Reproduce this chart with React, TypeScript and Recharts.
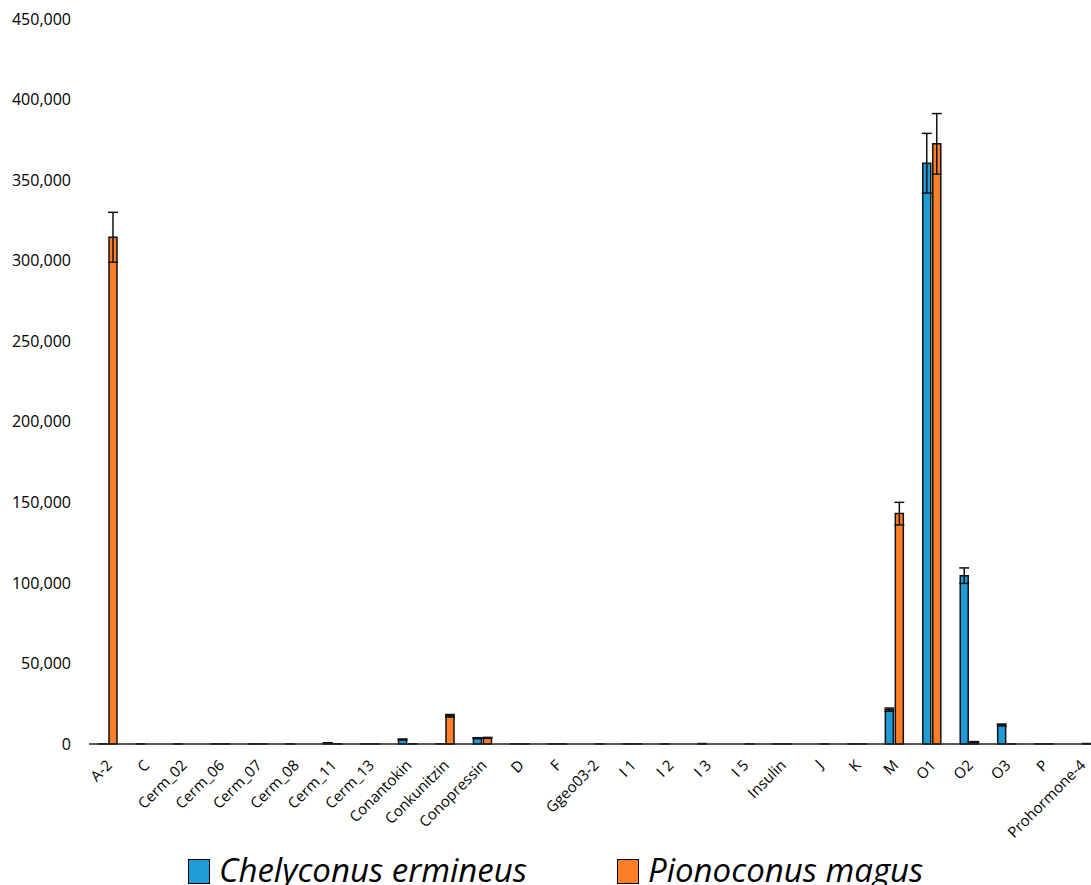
import React from "react";
import { BarChart, Bar, XAxis, YAxis, ErrorBar, Legend } from "recharts";

const categories = [
  "A-2", "C", "Cerm_02", "Cerm_06", "Cerm_07", "Cerm_08", "Cerm_11", "Cerm_13",
  "Conantokin", "Conkunitzin", "Conopressin", "D", "F", "Ggeo03-2", "I 1", "I 2",
  "I 3", "I 5", "Insulin", "J", "K", "M", "O1", "O2", "O3", "P", "Prohormone-4",
];
const chelyconus = [
  100, 150, 100, 100, 100, 100, 600, 100, 2800, 150, 3600, 100, 100, 0, 100, 100,
  300, 0, 100, 0, 100, 21300, 360500, 104500, 11800, 100, 0,
];
const chelyconusErr = [
  0, 0, 0, 0, 0, 0, 100, 0, 300, 0, 300, 0, 0, 0, 0, 0,
  0, 0, 0, 0, 0, 1000, 18500, 4800, 600, 0, 0,
];
const pionoconus = [
  314500, 0, 0, 100, 100, 0, 150, 100, 150, 17500, 3800, 100, 100, 100, 100, 0,
  0, 100, 100, 100, 100, 143000, 372500, 1200, 100, 100, 300,
];
const pionoconusErr = [
  15500, 0, 0, 0, 0, 0, 0, 0, 0, 800, 300, 0, 0, 0, 0, 0,
  0, 0, 0, 0, 0, 7000, 18800, 300, 0, 0, 0,
];
const yTicks = [0, 50000, 100000, 150000, 200000, 250000, 300000, 350000, 400000, 450000];
const seriesNames = ["Chelyconus ermineus", "Pionoconus magus"];

const BLUE = "#1f9bd7";
const ORANGE = "#ff7f27";
const FONT = "'Open Sans', 'Noto Sans', sans-serif";

const data = categories.map((c, i) => ({
  name: c,
  ce: chelyconus[i],
  ceErr: chelyconusErr[i],
  pm: pionoconus[i],
  pmErr: pionoconusErr[i],
}));

const fmt = (v: number) => v.toLocaleString("en-US");

const XTick = (props: any) => {
  const { x, y, payload } = props;
  return (
    <g transform={`translate(${x + 1},${y + 10})`}>
      <text
        x={0}
        y={0}
        dy={6}
        textAnchor="end"
        transform="rotate(-45)"
        fontFamily={FONT}
        fontSize={15}
        fill="#000"
      >
        {payload.value}
      </text>
    </g>
  );
};

const LegendContent = () => (
  <div style={{ position: "relative", height: 36, width: "100%", fontFamily: FONT }}>
    {[BLUE, ORANGE].map((col, i) => (
      <div
        key={i}
        style={{
          position: "absolute",
          left: i === 0 ? 180 : 609,
          top: 0,
          height: 36,
          display: "flex",
          alignItems: "center",
          whiteSpace: "nowrap",
        }}
      >
        <span
          style={{
            display: "inline-block",
            width: 20,
            height: 23,
            background: col,
            border: "1.5px solid #000",
            marginRight: 9,
            marginTop: 8,
          }}
        />
        <span style={{ fontSize: 33, fontStyle: "italic", color: "#000", lineHeight: "36px", marginTop: 6 }}>
          {seriesNames[i]}
        </span>
      </div>
    ))}
  </div>
);

export default function App() {
  return (
    <div
      style={{
        position: "fixed",
        left: 8,
        top: 8,
        width: 1083,
        height: 877,
        overflow: "hidden",
        background: "#fff",
      }}
    >
      <BarChart
        width={1092}
        height={877}
        data={data}
        margin={{ top: 11, right: 0, bottom: 0, left: 0 }}
        barSize={8}
        barGap={2}
      >
        <XAxis
          dataKey="name"
          interval={0}
          tickLine={false}
          axisLine={{ stroke: "#222", strokeWidth: 1.5 }}
          tick={<XTick />}
          height={105}
        />
        <YAxis
          domain={[0, 450000]}
          ticks={yTicks}
          tickFormatter={fmt}
          axisLine={false}
          tickLine={false}
          tickSize={0}
          tickMargin={18}
          width={81}
          tick={{ fontFamily: FONT, fontSize: 16, fill: "#000" }}
        />
        <Legend verticalAlign="bottom" height={36} content={<LegendContent />} />
        <Bar dataKey="ce" name={seriesNames[0]} fill={BLUE} stroke="#111" strokeWidth={1.5} isAnimationActive={false}>
          <ErrorBar dataKey="ceErr" direction="y" width={5} stroke="#111" strokeWidth={1.5} />
        </Bar>
        <Bar dataKey="pm" name={seriesNames[1]} fill={ORANGE} stroke="#111" strokeWidth={1.5} isAnimationActive={false}>
          <ErrorBar dataKey="pmErr" direction="y" width={5} stroke="#111" strokeWidth={1.5} />
        </Bar>
      </BarChart>
    </div>
  );
}
